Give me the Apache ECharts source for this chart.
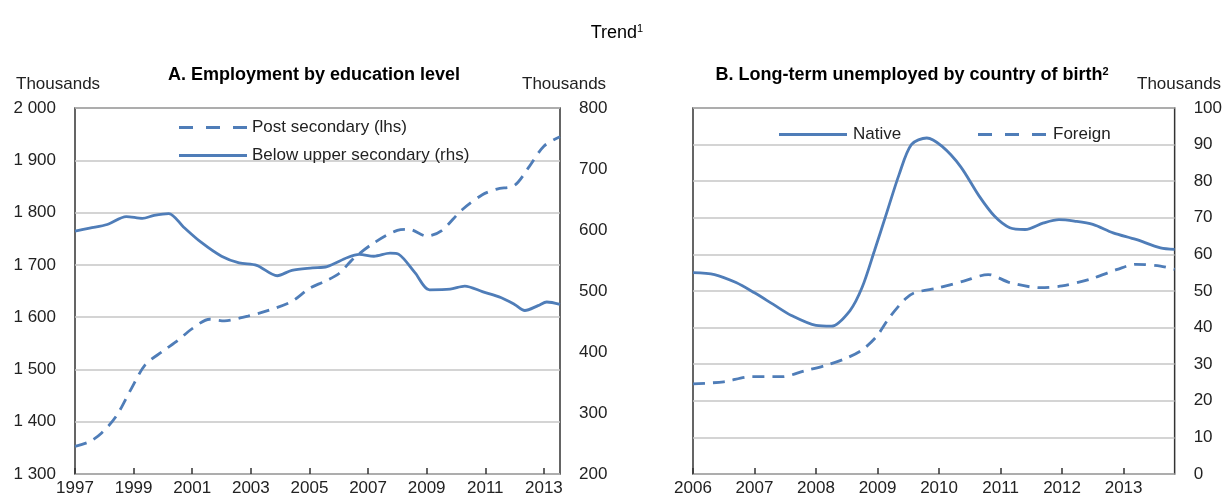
<!DOCTYPE html>
<html>
<head>
<meta charset="utf-8">
<script src="https://cdn.jsdelivr.net/npm/echarts@6/dist/echarts.min.js"></script>
<style>
  html, body { margin: 0; padding: 0; background: #fff; }
  #chart { width: 1225px; height: 500px; }
</style>
</head>
<body>
<div id="chart"></div>
<script>
// ---- Data ----
// Panel A: Employment by education level (thousands)
const postSecYears = [1997.0,1997.5,1997.9,1998.4,1998.9,1999.4,2000.0,2000.5,2001.0,2001.6,2002.1,2002.9,2003.6,2004.4,2005.0,2005.5,2006.0,2006.5,2007.2,2008.0,2008.4,2009.0,2009.5,2010.2,2010.9,2011.4,2012.0,2012.5,2013.0,2013.55];
const postSecValues = [1353,1362,1378,1410,1461,1509,1535,1555,1578,1596,1593,1602,1613,1630,1655,1668,1683,1712,1742,1766,1768,1755,1765,1805,1834,1845,1852,1888,1927,1945];
const belowYears = [1997.0,1997.5,1998.1,1998.75,1999.3,1999.7,2000.2,2000.7,2001.3,2002.0,2002.6,2003.2,2003.9,2004.4,2005.1,2005.6,2006.3,2006.7,2007.2,2007.75,2008.05,2008.6,2009.1,2009.8,2010.3,2010.9,2011.55,2012.0,2012.35,2012.8,2013.1,2013.55];
const belowValues = [598,603,609,622,619,624,627,605,580,557,546,542,525,534,538,540,555,560,557,562,560,530,502,503,508,499,489,478,468,476,482,478];
const panelAStart = 1997, panelAEnd = 2013.55;
const panelALeftTicks = [1300, 2000, 100];   // min, max, step
const panelARightTicks = [200, 800, 100];

// Panel B: Long-term unemployed by country of birth (thousands)
const nativeYears = [2006.0,2006.35,2006.7,2007.0,2007.3,2007.6,2008.0,2008.25,2008.55,2008.75,2008.95,2009.15,2009.35,2009.55,2009.8,2010.05,2010.35,2010.65,2010.9,2011.15,2011.4,2011.7,2011.95,2012.2,2012.5,2012.83,2013.2,2013.6,2013.83];
const nativeValues = [55,54.5,52.3,49.5,46.4,43.3,40.6,40.4,44.6,51,61,71.4,81.8,90,91.8,89.5,84,76,70.5,67.3,66.8,68.6,69.5,69.1,68.2,65.9,64.1,61.8,61.4];
const foreignYears = [2006.0,2006.5,2006.95,2007.45,2007.8,2008.2,2008.5,2008.75,2008.98,2009.2,2009.45,2009.6,2010.0,2010.4,2010.8,2011.15,2011.65,2012.0,2012.45,2012.9,2013.2,2013.6,2013.83];
const foreignValues = [24.6,25.2,26.6,26.6,28.1,29.9,31.7,33.9,37.5,42.9,47.8,49.5,50.9,52.7,54.5,52.3,50.9,51.4,53.2,55.9,57.3,56.8,55.9];
const panelBStart = 2006, panelBEnd = 2013.83;
const panelBTicks = [0, 100, 10];

// ---- Build ----
const LINE = '#4f7db8';
const FONT = 'Liberation Sans';
const pairs = (xs, ys, start) => xs.map((x, i) => [x - start, ys[i]]);
const spaced = v => { const s = String(v); return s.length > 3 ? s.slice(0, s.length - 3) + ' ' + s.slice(-3) : s; };
const lbl = { color: '#222', fontFamily: FONT, fontSize: 17 };
const legText = { fontFamily: FONT, fontSize: 17, color: '#222' };
const SOLID_ICON = 'path://M0,0H68V3H0Z';
const DASH_ICON = 'path://M0,0H14V3H0Z M27,0H41V3H27Z M54,0H68V3H54Z';

const chart = echarts.init(document.getElementById('chart'), null, { renderer: 'canvas' });
const gridBox = { show: true, borderColor: '#333', borderWidth: 1.5, backgroundColor: 'transparent' };

const option = {
  animation: false,
  backgroundColor: '#fff',
  title: [
    { text: 'Trend{sup|1}', left: 612, top: 18, textAlign: 'center',
      textStyle: { fontFamily: FONT, fontSize: 18, fontWeight: 'normal', color: '#000',
        rich: { sup: { fontSize: 11, verticalAlign: 'top', padding: [0,0,9,0], color: '#000', fontFamily: FONT } } } },
    { text: 'A. Employment by education level', left: 309, top: 61, textAlign: 'center',
      textStyle: { fontFamily: FONT, fontSize: 18, fontWeight: 'bold', color: '#000' } },
    { text: 'B. Long-term unemployed by country of birth{sup|2}', left: 907, top: 61, textAlign: 'center',
      textStyle: { fontFamily: FONT, fontSize: 18, fontWeight: 'bold', color: '#000',
        rich: { sup: { fontSize: 11, fontWeight: 'bold', verticalAlign: 'top', padding: [0,0,8,0], color: '#000', fontFamily: FONT } } } }
  ],
  graphic: [
    { type: 'text', left: 16, top: 76, style: { text: 'Thousands', fontFamily: FONT, fontSize: 17, fill: '#222' } },
    { type: 'text', left: 522, top: 76, style: { text: 'Thousands', fontFamily: FONT, fontSize: 17, fill: '#222' } },
    { type: 'text', left: 1137, top: 76, style: { text: 'Thousands', fontFamily: FONT, fontSize: 17, fill: '#222' } }
  ],
  legend: [
    { left: 174, top: 114, orient: 'vertical', itemWidth: 68, itemHeight: 3, itemGap: 11,
      textStyle: legText,
      data: [ { name: 'Post secondary (lhs)', icon: DASH_ICON }, { name: 'Below upper secondary (rhs)', icon: SOLID_ICON } ] },
    { left: 774, top: 121, itemWidth: 70, itemHeight: 3, textStyle: legText,
      data: [ { name: 'Native', icon: SOLID_ICON } ] },
    { left: 973, top: 121, itemWidth: 72, itemHeight: 3, textStyle: legText,
      data: [ { name: 'Foreign', icon: DASH_ICON } ] }
  ],
  grid: [
    Object.assign({ left: 75, top: 108, width: 485, height: 366 }, gridBox),
    Object.assign({ left: 693, top: 108, width: 483, height: 366 }, gridBox)
  ],
  xAxis: [
    { type: 'value', gridIndex: 0, min: 0, max: panelAEnd - panelAStart, interval: 2,
      axisLine: { show: false }, splitLine: { show: false },
      axisTick: { inside: true, length: 6, lineStyle: { color: '#333', width: 1.5 } },
      axisLabel: Object.assign({ margin: 6, showMaxLabel: false,
        formatter: v => Number.isInteger(v) ? String(panelAStart + v) : '' }, lbl) },
    { type: 'value', gridIndex: 1, min: 0, max: panelBEnd - panelBStart, interval: 1,
      axisLine: { show: false }, splitLine: { show: false },
      axisTick: { inside: true, length: 6, lineStyle: { color: '#333', width: 1.5 } },
      axisLabel: Object.assign({ margin: 6, showMaxLabel: false,
        formatter: v => Number.isInteger(v) ? String(panelBStart + v) : '' }, lbl) }
  ],
  yAxis: [
    { type: 'value', gridIndex: 0, position: 'left', min: panelALeftTicks[0], max: panelALeftTicks[1], interval: panelALeftTicks[2],
      axisLine: { show: false }, axisTick: { show: false },
      splitLine: { show: true, lineStyle: { color: '#c6c6c6', width: 1.6 } },
      axisLabel: Object.assign({ margin: 19, formatter: spaced }, lbl) },
    { type: 'value', gridIndex: 0, position: 'right', min: panelARightTicks[0], max: panelARightTicks[1], interval: panelARightTicks[2],
      axisLine: { show: false }, axisTick: { show: false }, splitLine: { show: false },
      axisLabel: Object.assign({ margin: 19 }, lbl) },
    { type: 'value', gridIndex: 1, position: 'right', min: panelBTicks[0], max: panelBTicks[1], interval: panelBTicks[2],
      axisLine: { show: false }, axisTick: { show: false },
      splitLine: { show: true, lineStyle: { color: '#c6c6c6', width: 1.6 } },
      axisLabel: Object.assign({ margin: 19 }, lbl) }
  ],
  series: [
    { name: 'Post secondary (lhs)', type: 'line', xAxisIndex: 0, yAxisIndex: 0, symbol: 'none', smooth: 0.3,
      lineStyle: { color: LINE, width: 2.8, type: [12, 8] }, itemStyle: { color: LINE },
      data: pairs(postSecYears, postSecValues, panelAStart) },
    { name: 'Below upper secondary (rhs)', type: 'line', xAxisIndex: 0, yAxisIndex: 1, symbol: 'none', smooth: 0.3,
      lineStyle: { color: LINE, width: 2.8 }, itemStyle: { color: LINE },
      data: pairs(belowYears, belowValues, panelAStart) },
    { name: 'Native', type: 'line', xAxisIndex: 1, yAxisIndex: 2, symbol: 'none', smooth: 0.3,
      lineStyle: { color: LINE, width: 2.8 }, itemStyle: { color: LINE },
      data: pairs(nativeYears, nativeValues, panelBStart) },
    { name: 'Foreign', type: 'line', xAxisIndex: 1, yAxisIndex: 2, symbol: 'none', smooth: 0.3,
      lineStyle: { color: LINE, width: 2.8, type: [12, 8] }, itemStyle: { color: LINE },
      data: pairs(foreignYears, foreignValues, panelBStart) }
  ]
};
chart.setOption(option);
</script>
</body>
</html>
